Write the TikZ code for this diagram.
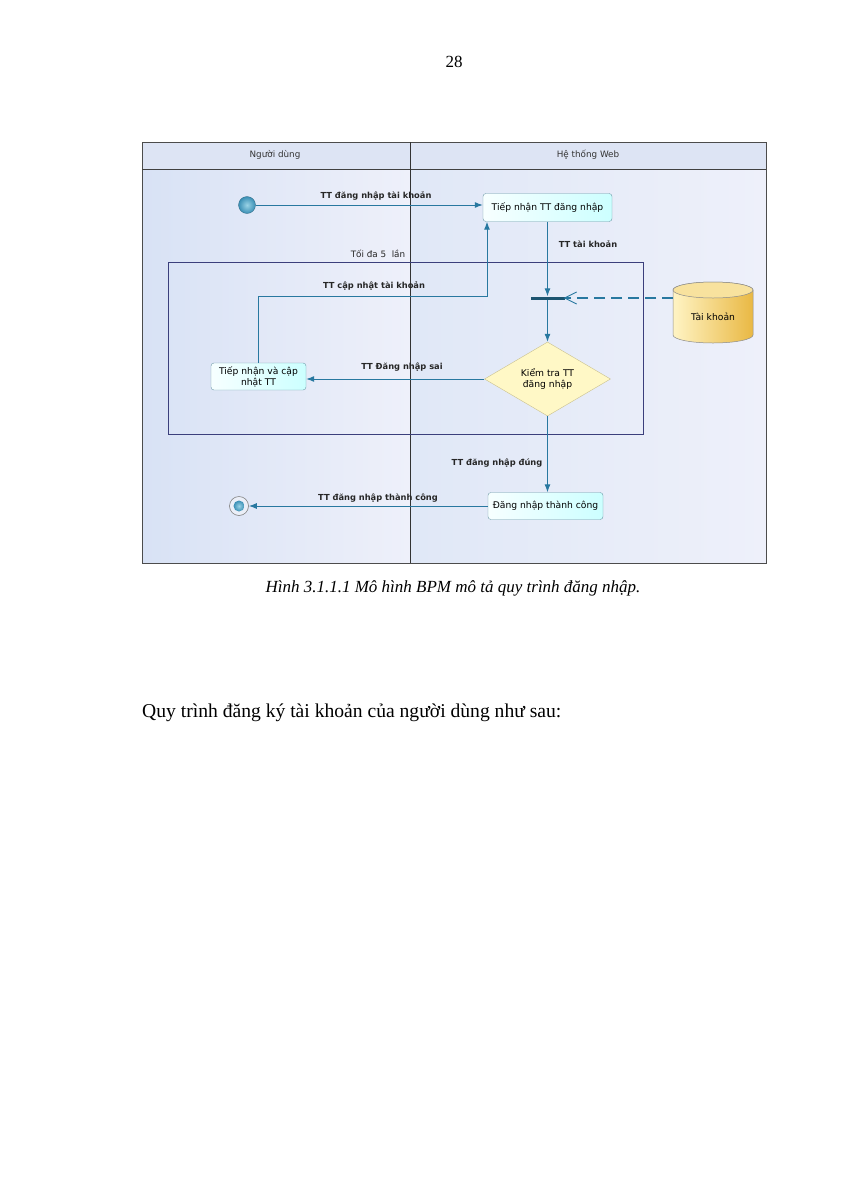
\documentclass[tikz,border=0pt]{standalone}
\usepackage{fontspec}
\setmainfont{Liberation Serif}
\newfontfamily\dfont{DejaVu Sans}
\usetikzlibrary{shapes.geometric,arrows.meta,calc}
\definecolor{flowc}{HTML}{2878A0}
\definecolor{framec}{HTML}{3B3F7C}
\definecolor{boxb}{HTML}{6E9AA8}
\definecolor{laneA}{HTML}{D8E2F5}
\definecolor{laneB}{HTML}{EEF0FA}
\definecolor{headc}{HTML}{DDE4F4}
\definecolor{diaf}{HTML}{FFF8C6}
\definecolor{diab}{HTML}{C9C08E}
\definecolor{dbA}{HTML}{FFF4C4}
\definecolor{dbB}{HTML}{E9B844}
\definecolor{ballin}{HTML}{9AD3E6}
\definecolor{ballout}{HTML}{3A8FB5}
\tikzset{
  flow/.style={draw=flowc, line width=1pt, -{Latex[length=8pt,width=6pt]}},
  actbox/.style={draw=boxb, rounded corners=3pt, left color=white!60!cyan!8, right color=cyan!20, font=\dfont\fontsize{9.2}{11}\selectfont, align=center, inner sep=0pt},
  lbl/.style={font=\dfont\bfseries\fontsize{8.3}{10}\selectfont, text=black!85},
  lane/.style={font=\dfont\fontsize{8.8}{10}\selectfont, text=black!80},
  ballnode/.style={circle, inner sep=0pt, inner color=ballin, outer color=ballout},
}
\begin{document}
\begin{tikzpicture}[x=1pt,y=-1pt]
\useasboundingbox (0,0) rectangle (848,1200);
\fill[white] (0,0) rectangle (848,1200);
% page number
\node[font=\fontsize{17}{20}\selectfont] (pg) at (454,62) {28};
% lanes background
\shade[left color=laneA, right color=laneB] (142,169) rectangle (410,563);
\shade[left color=laneA!80!white, right color=laneB] (410,169) rectangle (766,563);
\fill[headc] (142,142) rectangle (766,169);
\draw[black!70, line width=0.8pt] (142,142) rectangle (766,563);
\draw[black!75, line width=0.7pt] (142,169) -- (766,169);
\draw[black!80, line width=0.8pt] (410,142) -- (410,563);
\node[lane] (l1) at (275,155) {Người dùng};
\node[lane] (l2) at (588,155) {Hệ thống Web};
% loop frame
\draw[framec, line width=0.9pt] (168,262) rectangle (643,434);
\node[lane, text=black!85] (loop) at (378,254) {Tối đa 5\ \ lần};
% nodes
\node[ballnode, minimum size=17pt, draw=ballout!70!black, line width=0.3pt] (start) at (247,205) {};
\node[actbox, minimum width=129pt, minimum height=28pt] (box1) at (547.5,207.5) {Tiếp nhận TT đăng nhập};
\node[rectangle, fill=flowc!70!black, minimum width=34pt, minimum height=3pt, inner sep=0pt] (bar) at (547.5,298) {};
\node[diamond, draw=diab, fill=diaf, minimum width=126pt, minimum height=74pt, inner sep=0pt, aspect=1.7, font=\dfont\fontsize{9.2}{11}\selectfont, align=center] (dia) at (547.5,379) {Kiểm tra TT\\đăng nhập};
\node[actbox, minimum width=95pt, minimum height=27pt] (box2) at (258.5,376.5) {Tiếp nhận và cập\\nhật TT};
\node[actbox, minimum width=115pt, minimum height=27pt] (box3) at (545.5,506) {Đăng nhập thành công};
\node[circle, minimum size=19pt, inner sep=0pt, draw=black!50, fill=headc!60!white, line width=0.6pt] (end) at (239,506) {};
\node[ballnode, minimum size=11pt] (endin) at (end.center) {};
% database cylinder
\shade[left color=dbA, right color=dbB, draw=black!45, line width=0.5pt]
  (673,290) -- (673,335) arc[start angle=180, end angle=360, x radius=40, y radius=-8] -- (753,290)
  arc[start angle=0, end angle=180, x radius=40, y radius=-8] -- cycle;
\draw[black!45, line width=0.5pt, fill=dbA!70!dbB] (713,290) ellipse[x radius=40, y radius=8];
\node[font=\dfont\fontsize{9.2}{11}\selectfont] (db) at (713,317) {Tài khoản};
\coordinate (dbw) at (673,298);
\coordinate (k1) at (487,296);
% connectors
\draw[flow] (start) -- (start -| box1.west);
\node[lbl] at (376,196) {TT đăng nhập tài khoản};
\draw[flow] (box1.south) -- (bar.north);
\node[lbl] at (588,244) {TT tài khoản};
\draw[flowc, line width=1.6pt, dash pattern=on 11pt off 6pt] (dbw) -- (bar.east);
\draw[flowc, line width=0.9pt] ($(bar.east)+(12,-6)$) -- (bar.east) -- ($(bar.east)+(12,6)$);
\draw[flow] (bar.south) -- (dia.north);
\draw[flow] (dia.west) -- (dia.west -| box2.east);
\node[lbl] at (402,367) {TT Đăng nhập sai};
\draw[flow] (box2.north) |- (k1) -- (k1 |- box1.south);
\node[lbl] at (374,286) {TT cập nhật tài khoản};
\draw[flow] (dia.south) -- (dia.south |- box3.north);
\node[lbl] at (497,463) {TT đăng nhập đúng};
\draw[flow] (box3.west) -- (end.east);
\node[lbl] at (378,498) {TT đăng nhập thành công};
% caption and text
\node[font=\itshape\fontsize{17}{20}\selectfont] (cap) at (453,588) {Hình 3.1.1.1 Mô hình BPM mô tả quy trình đăng nhập.};
\node[anchor=base west, inner sep=0pt, font=\fontsize{19.6}{23}\selectfont] (body) at (142,717) {Quy trình đăng ký tài khoản của người dùng như sau:};
\end{tikzpicture}
\end{document}
